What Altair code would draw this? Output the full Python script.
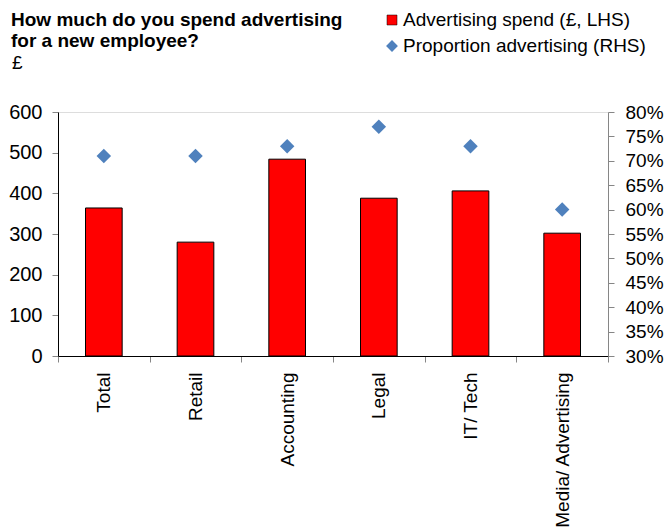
import altair as alt
import pandas as pd

categories = ["Total", "Retail", "Accounting", "Legal", "IT/ Tech", "Media/ Advertising"]
spend = [364, 280, 484, 388, 406, 302]
proportion = [0.71, 0.71, 0.73, 0.77, 0.73, 0.60]

left_ticks = [0, 100, 200, 300, 400, 500, 600]
right_ticks = [0.30, 0.35, 0.40, 0.45, 0.50, 0.55, 0.60, 0.65, 0.70, 0.75, 0.80]

title_lines = ["How much do you spend advertising", "for a new employee?"]
unit_label = ["£"]
legend_labels = ["Advertising spend (£, LHS)", "Proportion advertising (RHS)"]

df = pd.DataFrame({"category": categories, "spend": spend, "proportion": proportion})

FONT = "Liberation Sans"
RED = "#FF0000"
BLUE = "#4F81BD"
GRAY = "#868686"

x_enc = alt.X(
    "category:N",
    sort=categories,
    scale=alt.Scale(paddingInner=0, paddingOuter=0),
    axis=alt.Axis(
        title=None, labelAngle=-90, labelFontSize=19, labelColor="black",
        tickBand="extent", tickSize=6, tickColor=GRAY, domainColor="black",
        labelPadding=10, labelOverlap=False, labelFont=FONT,
    ),
)

base = alt.Chart(df)

bars = base.mark_bar(
    color=RED, stroke="#000000", strokeWidth=1, width=alt.RelativeBandSize(0.4)
).encode(
    x=x_enc,
    y=alt.Y(
        "spend:Q",
        scale=alt.Scale(domain=[0, 600], nice=False, zero=True),
        axis=alt.Axis(
            title=None, orient="left", values=left_ticks, labelFontSize=20,
            labelColor="black", tickSize=6, tickColor=GRAY, domainColor="black",
            labelPadding=10, grid=False, labelFont=FONT,
        ),
    ),
)

points = base.mark_point(
    shape="diamond", filled=True, color=BLUE, size=210, opacity=1
).encode(
    x=x_enc,
    y=alt.Y(
        "proportion:Q",
        scale=alt.Scale(domain=[0.3, 0.8], nice=False, zero=False),
        axis=alt.Axis(
            title=None, orient="right", values=right_ticks, format=".0%",
            labelFontSize=19, labelColor="black", tickSize=6, tickColor=GRAY,
            domainColor=GRAY, labelPadding=11, grid=False, labelFont=FONT,
        ),
    ),
)

def text_layer(txt, x, y, size=19, bold=False):
    return alt.Chart(pd.DataFrame({"t": [txt]})).mark_text(
        align="left", baseline="middle", font=FONT, fontSize=size,
        fontWeight="bold" if bold else "normal", color="black",
    ).encode(text="t:N", x=alt.value(x), y=alt.value(y))

t1 = text_layer(title_lines[0], -47, -92, size=19, bold=True)
t2 = text_layer(title_lines[1], -47, -71, size=19, bold=True)
t3 = text_layer(unit_label[0], -46, -49, size=19)
l1 = text_layer(legend_labels[0], 345, -92, size=19)
l2 = text_layer(legend_labels[1], 345, -66, size=19)

sq = alt.Chart(pd.DataFrame({"k": [legend_labels[0]]})).mark_square(
    color=RED, size=100, stroke="#000000", strokeWidth=0.5, opacity=1
).encode(x=alt.value(334), y=alt.value(-92))
dm = alt.Chart(pd.DataFrame({"k": [legend_labels[1]]})).mark_point(
    shape="diamond", filled=True, color=BLUE, size=140, opacity=1
).encode(x=alt.value(334), y=alt.value(-66))

chart = alt.layer(bars, points, t1, t2, t3, l1, l2, sq, dm).resolve_scale(
    y="independent"
).properties(
    width=550, height=244,
    autosize=alt.AutoSizeParams(type="none"),
    padding={"left": 58, "top": 112, "right": 59, "bottom": 175},
).configure_view(stroke=None).configure(font=FONT)

chart.save("out.html", embed_options={"renderer": "svg", "actions": False})
